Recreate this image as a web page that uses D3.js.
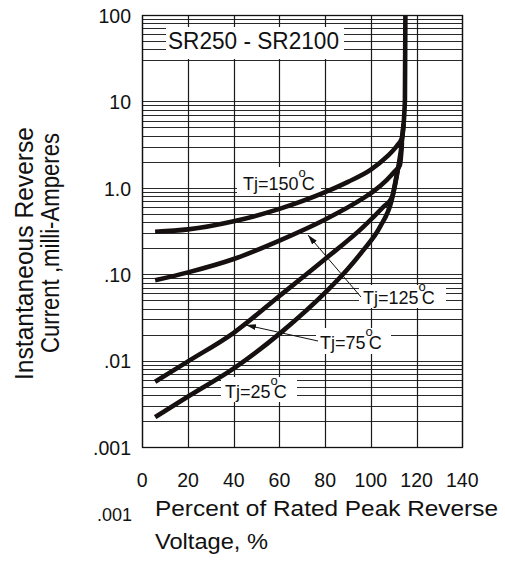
<!DOCTYPE html>
<html>
<head>
<meta charset="utf-8">
<script src="https://cdn.jsdelivr.net/npm/d3@7"></script>
<style>
  body { margin: 0; background: #fff; }
  text { font-family: "Liberation Sans", Arial, sans-serif; fill: #111; }
</style>
</head>
<body>
<div id="chart"></div>
<script>

var xTicks = [0, 20, 40, 60, 80, 100, 120, 140];
var yTicks = [100, 10, 1, 0.1, 0.01, 0.001];
var yTickLabels = ["100", "10", "1.0", ".10", ".01", ".001"];

// percent of rated voltage vs reverse current (mA)
var voltage150 = [5.6, 20, 40, 60, 80, 90, 100, 107, 111.5, 113.5, 114.3];
var current150 = [0.31, 0.33, 0.41, 0.57, 0.89, 1.17, 1.62, 2.29, 3.09, 3.72, 5.5];

var voltage125 = [5.6, 20, 40, 60, 80, 96.7, 101.1, 106.9, 110.5, 112.7, 113.6];
var current125 = [0.085, 0.105, 0.15, 0.245, 0.43, 0.76, 0.91, 1.23, 1.55, 1.83, 3.3];

var voltage75 = [5.6, 20, 40, 60, 80, 96.7, 105.4, 109.3, 110.6, 112];
var current75 = [0.0057, 0.0098, 0.021, 0.056, 0.150, 0.353, 0.60, 0.78, 1.13, 1.75];

var voltage25 = [5.6, 20.9, 40.2, 61, 81.1, 89.4, 96.7, 104, 109.1, 112, 113.5, 114.9, 115.1];
var current25 = [0.00222, 0.00397, 0.0082, 0.0215, 0.0653, 0.111, 0.19, 0.353, 0.72, 1.75, 3.27, 10.4, 100];

var seriesList = [
  { v: voltage150, i: current150 },
  { v: voltage125, i: current125 },
  { v: voltage75, i: current75 },
  { v: voltage25, i: current25 }
];

var svg = d3.select("#chart").append("svg")
  .attr("width", 505)
  .attr("height", 563);

svg.append("rect").attr("width", 505).attr("height", 563).attr("fill", "#fff");

var plotLeft = 142.3, plotRight = 462.3, plotTop = 15, plotBottom = 447;

var x = d3.scaleLinear().domain([0, 140]).range([plotLeft, plotRight]);
var y = d3.scaleLog().domain([0.001, 100]).range([plotBottom, plotTop]);

function snap(p) { return Math.round(p) + 0.5; }

// horizontal grid: 2..9 in every decade (the top decade has no line at 20)
var gridValues = [];
[0.001, 0.01, 0.1, 1, 10].forEach(function (d) {
  for (var m = 2; m <= 9; m++) {
    var val = +(d * m).toPrecision(3);
    if (val == 20) continue;
    gridValues.push(val);
  }
});
gridValues = gridValues.concat(yTicks);

var grid = svg.append("g");
grid.selectAll(".hgrid")
  .data(gridValues)
  .enter().append("line")
  .attr("x1", plotLeft).attr("x2", plotRight)
  .attr("y1", function (d) { return snap(y(d)); })
  .attr("y2", function (d) { return snap(y(d)); })
  .attr("stroke", "#2a2a2a")
  .attr("stroke-width", 1);

grid.selectAll(".vgrid")
  .data(xTicks)
  .enter().append("line")
  .attr("x1", function (d) { return snap(x(d)); })
  .attr("x2", function (d) { return snap(x(d)); })
  .attr("y1", plotTop).attr("y2", plotBottom)
  .attr("stroke", "#1a1a1a")
  .attr("stroke-width", 1.2);

svg.append("rect")
  .attr("x", snap(plotLeft)).attr("y", snap(plotTop))
  .attr("width", snap(plotRight) - snap(plotLeft))
  .attr("height", snap(plotBottom) - snap(plotTop))
  .attr("fill", "none")
  .attr("stroke", "#111")
  .attr("stroke-width", 1.3);

// white boxes behind the labels
function whiteBox(bx, by, bw, bh) {
  svg.append("rect").attr("x", bx).attr("y", by).attr("width", bw).attr("height", bh).attr("fill", "#fff");
}
whiteBox(166, 27, 178, 32);
whiteBox(237, 167, 84, 26);
whiteBox(359, 285, 87, 23);
whiteBox(316, 328, 75, 26);
whiteBox(221, 377, 76, 25);

// curves
var line = d3.line()
  .x(function (d) { return x(d[0]); })
  .y(function (d) { return y(d[1]); })
  .curve(d3.curveMonotoneX);

svg.selectAll(".curve")
  .data(seriesList)
  .enter().append("path")
  .attr("d", function (s) { return line(d3.zip(s.v, s.i)); })
  .attr("fill", "none")
  .attr("stroke", "#161010")
  .attr("stroke-width", 4.6)
  .attr("stroke-linecap", "butt")
  .attr("stroke-linejoin", "round");

// leader lines with arrows
svg.append("defs").append("marker")
  .attr("id", "arrow")
  .attr("viewBox", "0 0 10 6")
  .attr("refX", 10).attr("refY", 3)
  .attr("markerWidth", 10).attr("markerHeight", 6)
  .attr("markerUnits", "userSpaceOnUse")
  .attr("orient", "auto")
  .append("path").attr("d", "M0,0 L10,3 L0,6 Z").attr("fill", "#111");

svg.append("line")
  .attr("x1", 361).attr("y1", 297).attr("x2", 308).attr("y2", 235)
  .attr("stroke", "#111").attr("stroke-width", 1)
  .attr("marker-end", "url(#arrow)");

svg.append("line")
  .attr("x1", 318).attr("y1", 341).attr("x2", 246).attr("y2", 325)
  .attr("stroke", "#111").attr("stroke-width", 1)
  .attr("marker-end", "url(#arrow)");

// temperature labels
function tempLabel(tx, ty, t) {
  var txt = svg.append("text").attr("x", tx).attr("y", ty).style("font-size", "18px");
  txt.append("tspan").text("Tj=" + t);
  txt.append("tspan").attr("dy", -13).attr("dx", 0).style("font-size", "13px").text("o");
  txt.append("tspan").attr("dy", 13).attr("dx", -4).text("C");
}
tempLabel(243, 190, "150");
tempLabel(363, 304, "125");
tempLabel(320, 349, "75");
tempLabel(225, 398, "25");

svg.append("text")
  .attr("x", 168).attr("y", 49)
  .attr("textLength", 171).attr("lengthAdjust", "spacingAndGlyphs")
  .style("font-size", "23px")
  .text("SR250 - SR2100");

// tick labels
svg.selectAll(".ylab")
  .data(yTicks)
  .enter().append("text")
  .attr("x", 131)
  .attr("y", function (d) { return y(d); })
  .attr("dy", "0.4em")
  .attr("text-anchor", "end")
  .style("font-size", "19.5px")
  .text(function (d, i) { return yTickLabels[i]; });

svg.selectAll(".xlab")
  .data(xTicks)
  .enter().append("text")
  .attr("x", function (d) { return x(d); })
  .attr("y", 486.5)
  .attr("text-anchor", "middle")
  .style("font-size", "19.5px")
  .text(function (d) { return d; });

// axis titles
svg.append("text")
  .attr("x", 97).attr("y", 521)
  .style("font-size", "18px")
  .text(".001");

svg.append("text")
  .attr("x", 155).attr("y", 516)
  .attr("textLength", 343).attr("lengthAdjust", "spacingAndGlyphs")
  .style("font-size", "22.5px")
  .text("Percent of Rated Peak Reverse");

svg.append("text")
  .attr("x", 155).attr("y", 549)
  .attr("textLength", 113).attr("lengthAdjust", "spacingAndGlyphs")
  .style("font-size", "22.5px")
  .text("Voltage, %");

svg.append("text")
  .attr("transform", "translate(33,380) rotate(-90)")
  .attr("textLength", 253).attr("lengthAdjust", "spacingAndGlyphs")
  .style("font-size", "25px")
  .text("Instantaneous Reverse");

svg.append("text")
  .attr("transform", "translate(59,353) rotate(-90)")
  .attr("textLength", 220).attr("lengthAdjust", "spacingAndGlyphs")
  .style("font-size", "25px")
  .text("Current ,milli-Amperes");

</script>
</body>
</html>
